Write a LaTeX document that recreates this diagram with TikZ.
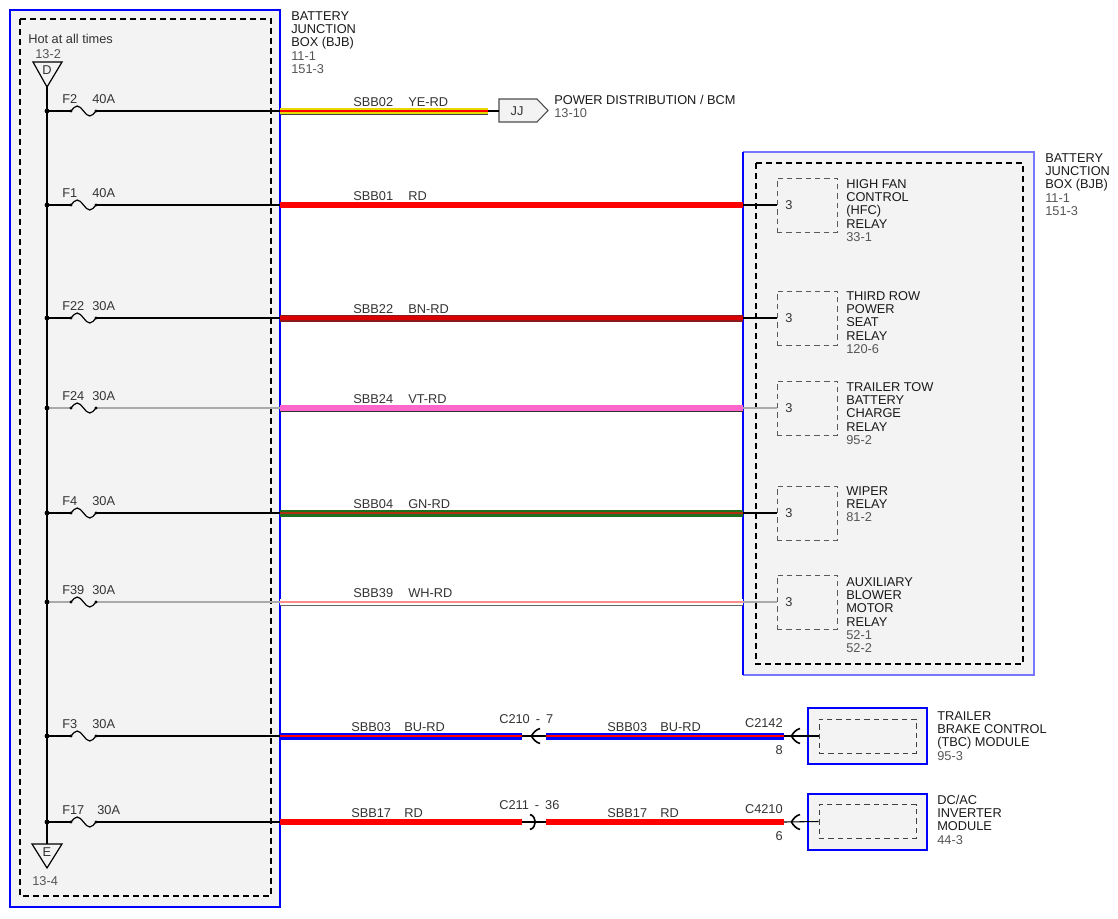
\documentclass[tikz,border=0pt]{standalone}
\usepackage{fontspec}
\setmainfont{Liberation Sans}
\newcommand\fsz{\fontsize{9.6}{10}\selectfont}
\newcommand\ml[1]{\begin{tabular}[t]{@{}l@{}}#1\end{tabular}}
\newcommand\rf[1]{\textcolor{rcol}{#1}}
\definecolor{boxfill}{HTML}{F3F3F3}
\definecolor{tcol}{HTML}{1A1A1A}
\definecolor{lcol}{HTML}{333333}
\definecolor{rcol}{HTML}{555555}
\definecolor{wye}{HTML}{E8D800}
\definecolor{wrd}{HTML}{FF0000}
\definecolor{wbn}{HTML}{8B1A1A}
\definecolor{wvt}{HTML}{FF66CC}
\definecolor{wgn}{HTML}{1E6E1E}
\definecolor{wgc}{HTML}{B03010}
\definecolor{wbu}{HTML}{0000FF}
\definecolor{frame}{HTML}{0000FF}
\definecolor{lframe}{HTML}{7777FF}
\definecolor{gline}{HTML}{AAAAAA}
\begin{document}
\begin{tikzpicture}[x=0.75pt,y=-0.75pt,
  lbl/.style={inner sep=0pt, anchor=base west, font=\fsz, text=tcol},
  flbl/.style={lbl, text=lcol},
  rlbl/.style={lbl, text=rcol},
  thinw/.style={line width=0.8pt},
  bigdash/.style={draw=black, line width=1.1pt, dash pattern=on 4.5pt off 3pt},
  relbox/.style={draw=black!65, line width=0.75pt, dash pattern=on 4pt off 3pt, minimum width=45pt, minimum height=40.5pt, inner sep=0pt},
  modbox/.style={draw=frame, line width=1.1pt, fill=boxfill, minimum width=89.25pt, minimum height=42pt, inner sep=0pt},
  modin/.style={draw=black!75, line width=0.75pt, dash pattern=on 4pt off 3pt, minimum width=72.75pt, minimum height=25.5pt, inner sep=0pt},
  rdw/.style={draw=wrd, line width=5pt},
  yerd/.style={draw=black!75, line width=5.25pt, postaction={draw=wye, line width=3.9pt}, postaction={draw=wrd, line width=1.1pt}},
  bnrd/.style={draw=wbn, line width=5.25pt, postaction={draw=red!85!black, line width=2.6pt}},
  vtrd/.style={draw=black!80, line width=5.25pt, postaction={draw=wvt, line width=3.9pt}},
  gnrd/.style={draw=wgn, line width=5.25pt, postaction={draw=wgc, line width=1.5pt}},
  whrd/.style={draw=black!60, line width=5.25pt, postaction={draw=white, line width=3.9pt}, postaction={draw=red!45, line width=0.9pt}},
  burd/.style={draw=wbu, line width=5.25pt, postaction={draw=wrd, line width=1.5pt}},
  conn/.style={line width=1.2pt, draw=black}
]
\useasboundingbox (0,0) rectangle (1118,918);

% ---------- left battery junction box ----------
\draw[fill=boxfill, draw=frame, line width=1.3pt] (10,10) rectangle (280,907);
\draw[bigdash] (20,19) rectangle (271,896);
\node[flbl] (hot) at (28,43) {Hot at all times};
\node[rlbl] (r132) at (35,58) {13-2};
\draw[line width=0.9pt, draw=black] (33,62) -- (62,62) -- (47,87) -- cycle;
\node[inner sep=0pt, font=\fsz, text=lcol] (dlet) at (47,70.5) {D};
\coordinate (dapex) at (47,87);
\draw[line width=0.9pt, draw=black] (32,844) -- (62,844) -- (47,868) -- cycle;
\node[inner sep=0pt, font=\fsz, text=lcol] (elet) at (47,852.5) {E};
\coordinate (etop) at (47,844);
\node[rlbl] (r134) at (32,885) {13-4};
\draw[line width=1.2pt] (dapex) -- (etop);

\node[lbl] (bjb1) at (291,20) {\ml{BATTERY\\JUNCTION\\BOX (BJB)\\\rf{11-1}\\\rf{151-3}}};

\foreach \n/\r/\fl/\al/\ax/\lc in {02/111/F2/40A/92/black, 01/205/F1/40A/92/black, 22/318/F22/30A/92/black, 24/408/F24/30A/92/gline, 04/513/F4/30A/92/black, 39/602/F39/30A/92/gline, 03/736/F3/30A/92/black, 17/822/F17/30A/97/black}{
  \coordinate (bus\n) at (47,\r);
  \coordinate (fa\n) at (71,\r);
  \coordinate (fb\n) at (96,\r);
  \coordinate (bw\n) at (280,\r);
  \draw[\lc, line width=0.8pt] (bus\n) -- (fa\n);
  \draw[\lc, line width=0.8pt] (fb\n) -- (bw\n);
  \draw[black, line width=0.9pt] (fa\n) sin ++(6.25,-5) cos ++(6.25,5) sin ++(6.25,5) cos ++(6.25,-5);
  \fill (fa\n) circle (1.3pt);
  \fill (fb\n) circle (1.3pt);
  \fill (bus\n) circle (1.8pt);
  \node[flbl] (fl\n) at (62,\r-8) {\fl};
  \node[flbl] (al\n) at (\ax,\r-8) {\al};
}

% ---------- right battery junction box ----------
\fill[boxfill] (743,152) rectangle (1034,675);
\draw[lframe, line width=1pt] (743,152) -- (1034,152) -- (1034,675) -- (743,675);
\draw[frame, line width=1.6pt] (743,152) -- (743,675);
\draw[bigdash] (756,163) rectangle (1023,664);
\node[lbl] (bjb2) at (1045,162) {\ml{BATTERY\\JUNCTION\\BOX (BJB)\\\rf{11-1}\\\rf{151-3}}};

% ---------- SBB02 to JJ ----------
\coordinate (we02) at (488,111);
\draw[yerd] (bw02) -- (we02);
\draw[fill=boxfill, draw=black!70, line width=0.8pt] (499,99) -- (537,99) -- (548,110.5) -- (537,122) -- (499,122) -- cycle;
\coordinate (jjin) at (499,111);
\node[inner sep=0pt, font=\fsz, text=lcol] (jj) at (517,111) {JJ};
\draw[thinw] (we02) -- (jjin);
\node[lbl] (pdist) at (554,104) {\ml{POWER DISTRIBUTION / BCM\\\rf{13-10}}};
\node[flbl] (l02a) at (353,106) {SBB02};
\node[flbl] (l02b) at (408,106) {YE-RD};

% ---------- wires to relays ----------
\foreach \n/\r/\st/\lc/\wa/\wb in {01/205/rdw/black/SBB01/RD, 22/318/bnrd/black/SBB22/BN-RD, 24/408/vtrd/gline/SBB24/VT-RD, 04/513/gnrd/black/SBB04/GN-RD, 39/602/whrd/gline/SBB39/WH-RD}{
  \coordinate (re\n) at (743,\r);
  \draw[\st] (bw\n) -- (re\n);
  \node[relbox] (rel\n) at (807,\r) {};
  \draw[\lc, line width=0.8pt] (re\n) -- (rel\n.west);
  \node[flbl, anchor=west] (pin\n) at (785,\r) {3};
  \node[flbl] (la\n) at (353,\r-5) {\wa};
  \node[flbl] (lb\n) at (408,\r-5) {\wb};
}
\node[lbl] (t01) at (846,188) {\ml{HIGH FAN\\CONTROL\\(HFC)\\RELAY\\\rf{33-1}}};
\node[lbl] (t22) at (846,300) {\ml{THIRD ROW\\POWER\\SEAT\\RELAY\\\rf{120-6}}};
\node[lbl] (t24) at (846,391) {\ml{TRAILER TOW\\BATTERY\\CHARGE\\RELAY\\\rf{95-2}}};
\node[lbl] (t04) at (846,495) {\ml{WIPER\\RELAY\\\rf{81-2}}};
\node[lbl] (t39) at (846,586) {\ml{AUXILIARY\\BLOWER\\MOTOR\\RELAY\\\rf{52-1}\\\rf{52-2}}};

% ---------- modules ----------
\node[modbox] (tbc) at (867.5,736) {};
\node[modin] (tbci) at (867.5,736) {};
\node[modbox] (dcac) at (867.5,822) {};
\node[modin] (dcaci) at (867.5,821.5) {};
\node[lbl] (ttbc) at (937,720) {\ml{TRAILER\\BRAKE CONTROL\\(TBC) MODULE\\\rf{95-3}}};
\node[lbl] (tdc) at (937,804) {\ml{DC/AC\\INVERTER\\MODULE\\\rf{44-3}}};

% SBB03
\coordinate (w03a) at (522,736);
\coordinate (w03b) at (546,736);
\coordinate (w03c) at (784,736);
\draw[burd] (bw03) -- (w03a);
\draw[thinw] (w03a) -- (w03b);
\draw[burd] (w03b) -- (w03c);
\draw[thinw] (w03c) -- (tbci.west);
\draw[conn] (540,728.5) .. controls (536,729.5) and (533,733) .. (531.5,736) .. controls (533,739) and (536,742.5) .. (540,743.5);
\draw[conn] (800,728.5) .. controls (796,729.5) and (793,733) .. (791.5,736) .. controls (793,739) and (796,742.5) .. (800,743.5);
\node[flbl] (l03a) at (351,731) {SBB03};
\node[flbl] (l03b) at (404,731) {BU-RD};
\node[flbl] (l03c) at (607,731) {SBB03};
\node[flbl] (l03d) at (660,731) {BU-RD};
\node[flbl] (c210) at (499,723) {C210\hspace{4.5pt}-\hspace{4.5pt}7};
\node[flbl, anchor=base east] (c2142) at (783,727) {C2142};
\node[flbl, anchor=base east] (p8) at (783,754) {8};

% SBB17
\coordinate (w17a) at (522,822);
\coordinate (w17b) at (546,822);
\coordinate (w17c) at (784,822);
\draw[rdw] (bw17) -- (w17a);
\draw[thinw] (w17a) -- (w17b);
\draw[rdw] (w17b) -- (w17c);
\draw[thinw] (w17c) -- (dcaci.west);
\draw[conn] (530,814.5) .. controls (537,816.5) and (537,827.5) .. (530,829.5);
\draw[conn] (800,814.5) .. controls (796,815.5) and (793,819) .. (791.5,822) .. controls (793,825) and (796,828.5) .. (800,829.5);
\node[flbl] (l17a) at (351,817) {SBB17};
\node[flbl] (l17b) at (404,817) {RD};
\node[flbl] (l17c) at (607,817) {SBB17};
\node[flbl] (l17d) at (660,817) {RD};
\node[flbl] (c211) at (499,809) {C211\hspace{4.5pt}-\hspace{4.5pt}36};
\node[flbl, anchor=base east] (c4210) at (783,813) {C4210};
\node[flbl, anchor=base east] (p6) at (783,840) {6};
\end{tikzpicture}
\end{document}
